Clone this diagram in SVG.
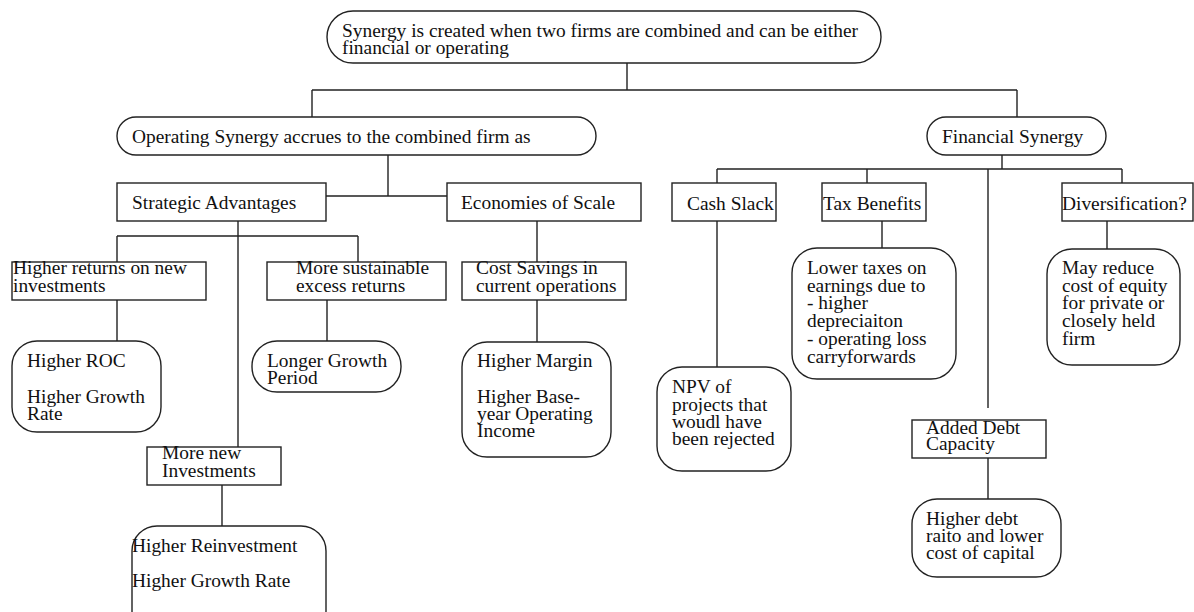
<svg xmlns="http://www.w3.org/2000/svg" width="1194" height="612" viewBox="0 0 1194 612">
<style>
.b{fill:#fff;stroke:#222;stroke-width:1.4}
.c{fill:none;stroke:#222;stroke-width:1.4}
text{font-family:"Liberation Serif","Times New Roman",serif;font-size:19.4px;fill:#111}
</style>
<rect width="1194" height="612" fill="#fff"/>
<g id="connectors" class="c">
<path d="M627,63V90M312,90H1017M312,90V117M1017,90V117"/>
<path d="M388,155V196M326,196H447"/>
<path d="M238,221V447M117,236H358M117,236V262M358,236V262"/>
<path d="M117,300V341M327,300V341"/>
<path d="M537,221V262M537,300V342"/>
<path d="M222,485V526"/>
<path d="M1002,155V169M717,169H1122M717,169V183M867,169V183M1122,169V183M988,169V408"/>
<path d="M717,221V367M882,221V248M1107,221V249M988,458V499"/>
</g>
<g id="n-top"><rect class="b" x="327" y="11" width="554" height="52" rx="26"/><text x="342" y="37">Synergy is created when two firms are combined and can be either<tspan x="342" y="54">financial or operating</tspan></text></g>
<g id="n-operating"><rect class="b" x="117" y="117" width="479" height="38" rx="19"/><text x="132" y="143">Operating Synergy accrues to the combined firm as</text></g>
<g id="n-financial"><rect class="b" x="927" y="117" width="179" height="38" rx="19"/><text x="942" y="143">Financial Synergy</text></g>
<g id="n-strategic"><rect class="b" x="117" y="183" width="209" height="38"/><text x="132" y="209">Strategic Advantages</text></g>
<g id="n-economies"><rect class="b" x="447" y="183" width="194" height="38"/><text x="461" y="209">Economies of Scale</text></g>
<g id="n-cash"><rect class="b" x="672" y="183" width="104" height="38"/><text x="687" y="210">Cash Slack</text></g>
<g id="n-tax"><rect class="b" x="822" y="183" width="104" height="38"/><text x="823" y="210">Tax Benefits</text></g>
<g id="n-div"><rect class="b" x="1062" y="183" width="131" height="38"/><text x="1062" y="210">Diversification?</text></g>
<g id="n-higher-returns"><rect class="b" x="12" y="262" width="194" height="38"/><text x="13" y="274">Higher returns on new<tspan x="13" y="292">investments</tspan></text></g>
<g id="n-sustainable"><rect class="b" x="267" y="262" width="179" height="38"/><text x="296" y="274">More sustainable<tspan x="296" y="292">excess returns</tspan></text></g>
<g id="n-cost"><rect class="b" x="462" y="262" width="164" height="38"/><text x="476" y="274">Cost Savings in<tspan x="476" y="292">current operations</tspan></text></g>
<g id="n-roc"><rect class="b" x="12" y="341" width="149" height="91" rx="25"/><text x="27" y="367">Higher ROC<tspan x="27" y="403">Higher Growth</tspan><tspan x="27" y="420">Rate</tspan></text></g>
<g id="n-longer"><rect class="b" x="252" y="341" width="149" height="51" rx="25"/><text x="267" y="367">Longer Growth<tspan x="267" y="384">Period</tspan></text></g>
<g id="n-margin"><rect class="b" x="462" y="342" width="149" height="115" rx="25"/><text x="477" y="367">Higher Margin<tspan x="477" y="403">Higher Base-</tspan><tspan x="477" y="420">year Operating</tspan><tspan x="477" y="437">Income</tspan></text></g>
<g id="n-npv"><rect class="b" x="657" y="367" width="134" height="104" rx="25"/><text x="672" y="393">NPV of<tspan x="672" y="411">projects that</tspan><tspan x="672" y="428">woudl have</tspan><tspan x="672" y="445">been rejected</tspan></text></g>
<g id="n-lower-taxes"><rect class="b" x="792" y="248" width="164" height="131" rx="25"/><text x="807" y="274">Lower taxes on<tspan x="807" y="292">earnings due to</tspan><tspan x="807" y="309">- higher</tspan><tspan x="807" y="327">depreciaiton</tspan><tspan x="807" y="345">- operating loss</tspan><tspan x="807" y="363">carryforwards</tspan></text></g>
<g id="n-may-reduce"><rect class="b" x="1047" y="249" width="133" height="116" rx="25"/><text x="1062" y="274">May reduce<tspan x="1062" y="292">cost of equity</tspan><tspan x="1062" y="309">for private or</tspan><tspan x="1062" y="327">closely held</tspan><tspan x="1062" y="345">firm</tspan></text></g>
<g id="n-more-new"><rect class="b" x="147" y="447" width="134" height="38"/><text x="162" y="459">More new<tspan x="162" y="477">Investments</tspan></text></g>
<g id="n-reinvest"><rect class="b" x="132" y="526" width="194" height="110" rx="25"/><text x="132" y="552">Higher Reinvestment<tspan x="132" y="587">Higher Growth Rate</tspan></text></g>
<g id="n-added-debt"><rect class="b" x="912" y="420" width="134" height="38"/><text x="926" y="434">Added Debt<tspan x="926" y="450">Capacity</tspan></text></g>
<g id="n-higher-debt"><rect class="b" x="912" y="499" width="149" height="78" rx="25"/><text x="926" y="525">Higher debt<tspan x="926" y="542">raito and lower</tspan><tspan x="926" y="559">cost of capital</tspan></text></g>
</svg>
